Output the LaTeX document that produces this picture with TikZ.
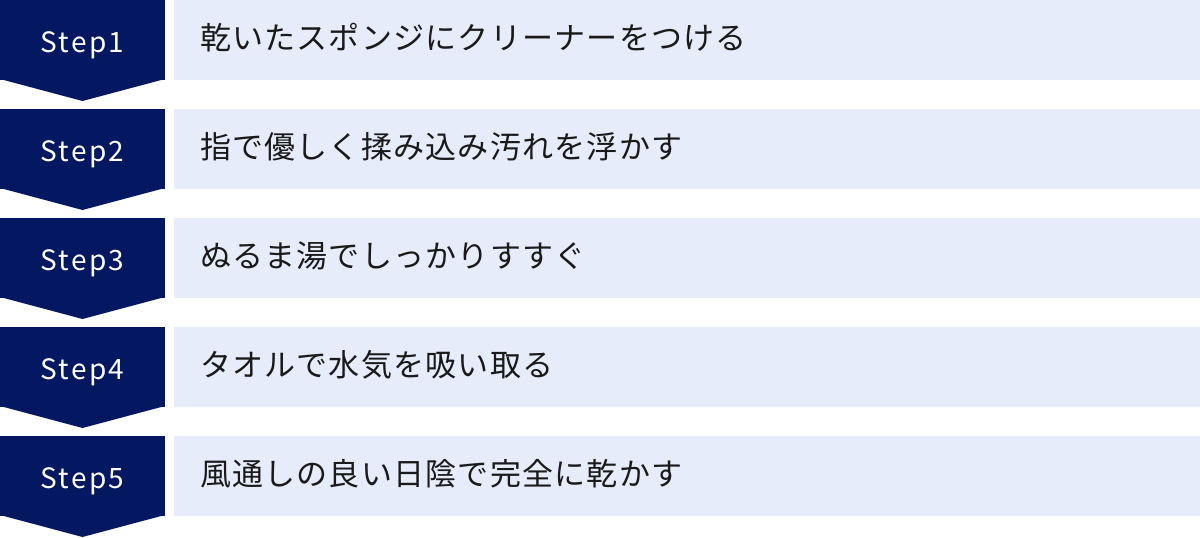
\documentclass[tikz,border=0pt]{standalone}
\usepackage{fontspec}
\setmainfont{Noto Sans CJK JP}
\newfontfamily\stepfont[LetterSpace=8]{Noto Sans CJK JP}
\newfontfamily\descfont[LetterSpace=4]{Noto Sans CJK JP}
\usetikzlibrary{positioning}
\definecolor{stepNavy}{HTML}{041761}
\definecolor{textBlue}{HTML}{E6ECF9}
\definecolor{textInk}{HTML}{1A1A1A}
\tikzset{%
  % Specifications for style of nodes:
    stepbox/.style = {rectangle, fill=stepNavy, text=white,
                      inner sep=0pt, outer sep=0pt,
                      minimum width=165pt, minimum height=80pt,
                      text height=28pt, text depth=4pt,
                      font=\stepfont\fontsize{28pt}{30pt}\selectfont},
    stepdesc/.style = {rectangle, fill=textBlue, text=textInk,
                       inner xsep=26pt, inner ysep=0pt, outer sep=0pt,
                       text width=974pt, minimum height=80pt, align=left,
                       text height=25pt, text depth=6pt,
                       font=\descfont\fontsize{31pt}{34pt}\selectfont},
    steptip/.style = {fill=stepNavy},
}

\begin{document}
\begin{tikzpicture}[node distance=29pt]
  \useasboundingbox (0,0) rectangle (1200pt,-538pt);
  % Specification of nodes (position, etc.)
  \node (step1) [stepbox, anchor=north west] at (0,0) {Step1};
  \node (step2) [stepbox, below=of step1] {Step2};
  \node (step3) [stepbox, below=of step2] {Step3};
  \node (step4) [stepbox, below=of step3] {Step4};
  \node (step5) [stepbox, below=of step4] {Step5};
  \node (desc1) [stepdesc, right=9pt of step1] {乾いたスポンジにクリーナーをつける};
  \node (desc2) [stepdesc, right=9pt of step2] {指で優しく揉み込み汚れを浮かす};
  \node (desc3) [stepdesc, right=9pt of step3] {ぬるま湯でしっかりすすぐ};
  \node (desc4) [stepdesc, right=9pt of step4] {タオルで水気を吸い取る};
  \node (desc5) [stepdesc, right=9pt of step5] {風通しの良い日陰で完全に乾かす};
  % Arrow tips below each step
  \fill[steptip] ([yshift=1pt]step1.south west) -- ([yshift=1pt]step1.south east)
                 -- ([yshift=-21pt]step1.south) -- cycle;
  \fill[steptip] ([yshift=1pt]step2.south west) -- ([yshift=1pt]step2.south east)
                 -- ([yshift=-21pt]step2.south) -- cycle;
  \fill[steptip] ([yshift=1pt]step3.south west) -- ([yshift=1pt]step3.south east)
                 -- ([yshift=-21pt]step3.south) -- cycle;
  \fill[steptip] ([yshift=1pt]step4.south west) -- ([yshift=1pt]step4.south east)
                 -- ([yshift=-21pt]step4.south) -- cycle;
  \fill[steptip] ([yshift=1pt]step5.south west) -- ([yshift=1pt]step5.south east)
                 -- ([yshift=-21pt]step5.south) -- cycle;
\end{tikzpicture}
\end{document}
